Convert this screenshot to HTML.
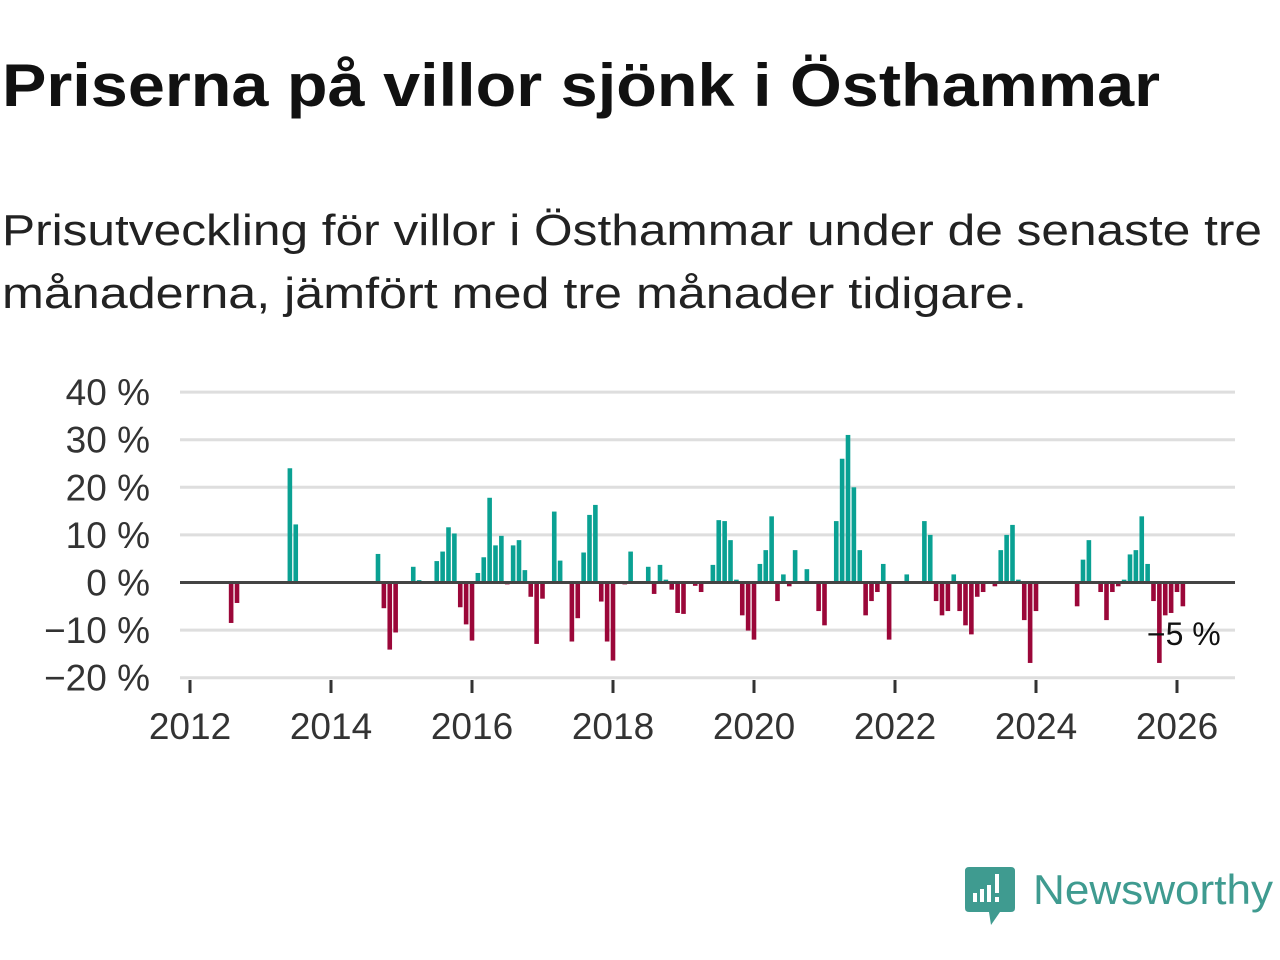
<!DOCTYPE html>
<html><head><meta charset="utf-8"><style>
html,body{margin:0;padding:0;background:#fff;}
svg{display:block;font-family:"Liberation Sans",sans-serif;}
</style></head><body>
<svg id="chart" width="1280" height="960" viewBox="0 0 1280 960">
<text x="2" y="106" font-size="60" font-weight="bold" fill="#111" textLength="1158" lengthAdjust="spacingAndGlyphs">Priserna på villor sjönk i Östhammar</text>
<text x="2" y="245" font-size="44" fill="#222" textLength="1260" lengthAdjust="spacingAndGlyphs">Prisutveckling för villor i Östhammar under de senaste tre</text>
<text x="2" y="308" font-size="44" fill="#222" textLength="1025" lengthAdjust="spacingAndGlyphs">månaderna, jämfört med tre månader tidigare.</text>
<g id="grid"></g><g id="bars"></g><g id="axes"></g>
<g>
<path d="M969 867 H1011 Q1015 867 1015 871 V908 Q1015 912 1011 912 H1000 L991 925 L989 912 H969 Q965 912 965 908 V871 Q965 867 969 867 Z" fill="#3f9b90"/>
<rect x="973" y="893" width="4" height="9" fill="#fff"/><rect x="980" y="889" width="4" height="13" fill="#fff"/><rect x="987" y="885" width="4" height="17" fill="#fff"/><rect x="995" y="874" width="4" height="19" fill="#fff"/><rect x="995" y="897" width="4" height="5" fill="#fff"/>
<text x="1033" y="904" font-size="42" fill="#3f9b90" textLength="240" lengthAdjust="spacingAndGlyphs">Newsworthy</text>
</g>
</svg>
<script>
const startYear = 2012;
const yTicks = [40, 30, 20, 10, 0, -10, -20];
const yTickLabels = ["40 %", "30 %", "20 %", "10 %", "0 %", "\u221210 %", "\u221220 %"];
const xTickYears = [2012, 2014, 2016, 2018, 2020, 2022, 2024, 2026];
const monthIndex = [7,8,17,18,32,33,34,35,38,39,42,43,44,45,46,47,48,49,50,51,52,53,54,55,56,57,58,59,60,62,63,65,66,67,68,69,70,71,72,74,75,78,79,80,81,82,83,84,86,87,89,90,91,92,93,94,95,96,97,98,99,100,101,102,103,105,107,108,110,111,112,113,114,115,116,117,118,119,122,125,126,127,128,129,130,131,132,133,134,135,137,138,139,140,141,142,143,144,151,152,153,155,156,157,158,159,160,161,162,163,164,165,166,167,168,169];
const changeValues = [-8.5,-4.3,24,12.2,6,-5.4,-14.1,-10.5,3.3,0.5,4.5,6.5,11.6,10.3,-5.2,-8.8,-12.2,2,5.3,17.8,7.8,9.8,-0.4,7.8,8.9,2.6,-3,-12.9,-3.4,14.9,4.6,-12.4,-7.5,6.3,14.2,16.3,-4,-12.4,-16.4,-0.4,6.5,3.3,-2.4,3.7,0.6,-1.5,-6.4,-6.6,-0.7,-2,3.7,13.1,12.9,8.9,0.6,-6.9,-10.1,-12,3.9,6.8,13.9,-3.9,1.7,-0.8,6.8,2.8,-6,-9,12.9,26,31,20,6.8,-6.9,-3.9,-2,3.9,-12,1.7,12.9,10,-3.9,-6.9,-6,1.7,-6,-9,-10.9,-3,-2,-0.8,6.8,10,12.1,0.6,-7.9,-16.9,-6,-5,4.8,8.9,-2,-7.9,-2,-0.8,0.6,5.9,6.8,13.9,3.9,-3.9,-16.9,-6.9,-6.4,-2,-5];
const NS = "http://www.w3.org/2000/svg";
const yScale = v => 582.5 - v * 4.76;
const xScale = m => 190 + m * 5.875;
function mk(tag, attrs, parent, txt) {
  const el = document.createElementNS(NS, tag);
  for (const k in attrs) el.setAttribute(k, attrs[k]);
  if (txt !== undefined) el.textContent = txt;
  parent.appendChild(el);
  return el;
}
const grid = document.getElementById("grid"), bars = document.getElementById("bars"), axes = document.getElementById("axes");
yTicks.forEach((t, i) => {
  if (t !== 0) {
    const g = mk("line", {x1: 180, x2: 1235, y1: yScale(t), y2: yScale(t), stroke: "#dedede", "stroke-width": 3}, grid);
    
    
  }
  const l = mk("text", {x: 150, y: yScale(t) + 13, "font-size": 37, fill: "#333", "text-anchor": "end"}, axes, yTickLabels[i]);
  
  
});
monthIndex.forEach((m, i) => {
  const v = changeValues[i];
  const y0 = yScale(0), y1 = yScale(v);
  const r = mk("rect", {x: xScale(m) - 2.3, y: Math.min(y0, y1), width: 4.6, height: Math.abs(y1 - y0), fill: v >= 0 ? "#0aa193" : "#9b0739"}, bars);
  
  
});
const zl = mk("line", {x1: 180, x2: 1235, y1: yScale(0), y2: yScale(0), stroke: "#444", "stroke-width": 3}, axes);


xTickYears.forEach(yr => {
  const x = xScale((yr - startYear) * 12);
  const t = mk("line", {x1: x, x2: x, y1: 680, y2: 693, stroke: "#333", "stroke-width": 3}, axes);
  
  
  const l = mk("text", {x: x, y: 739, "font-size": 37, fill: "#333", "text-anchor": "middle"}, axes, String(yr));
  
  
});
const lastV = changeValues[changeValues.length - 1];
const lastM = monthIndex[monthIndex.length - 1];
const lab = mk("text", {x: xScale(lastM) - 36, y: 645, "font-size": 32, fill: "#111"}, axes, (lastV < 0 ? "\u2212" : "") + Math.abs(lastV) + " %");


</script>
</body></html>
